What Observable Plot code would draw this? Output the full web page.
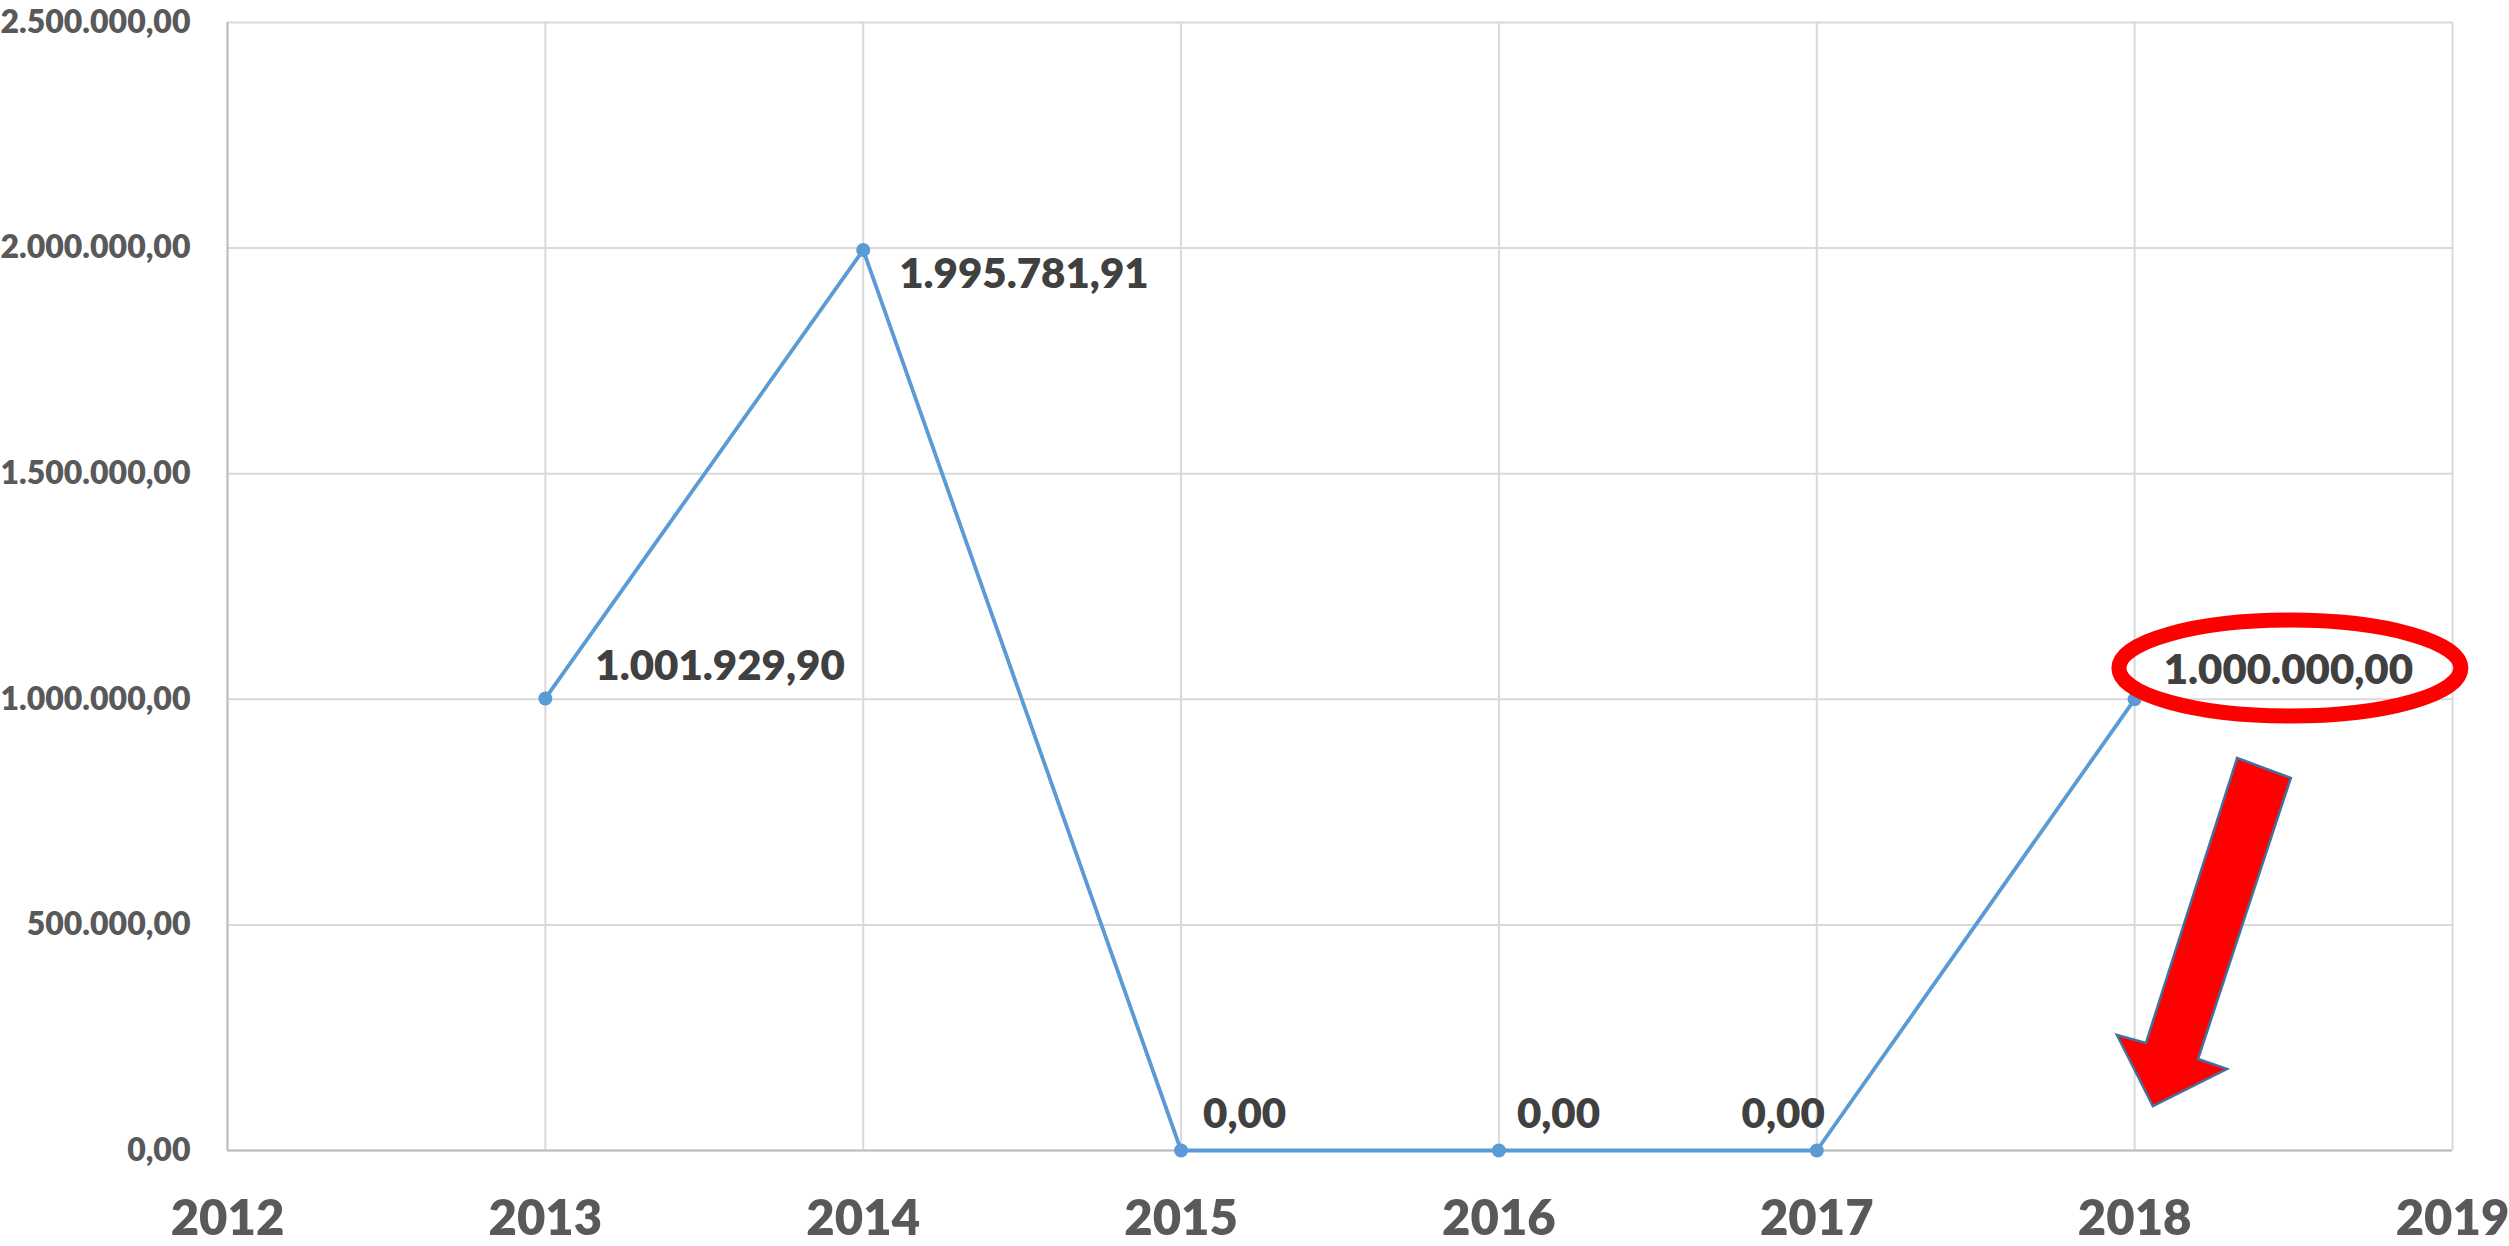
<!DOCTYPE html>
<html>
<head>
<meta charset="utf-8">
<script src="https://cdn.jsdelivr.net/npm/d3@7"></script>
<script src="https://cdn.jsdelivr.net/npm/@observablehq/plot@0.6"></script>
<style>
  html, body { margin: 0; padding: 0; background: #fff; }
  #chart svg { display: block; }
</style>
</head>
<body>
<div id="chart"></div>
<script>
// ---- data ----
const years = [2013, 2014, 2015, 2016, 2017, 2018];
const values = [1001929.90, 1995781.91, 0, 0, 0, 1000000];
const xTicks = [2012, 2013, 2014, 2015, 2016, 2017, 2018, 2019];
const yTicks = [0, 500000, 1000000, 1500000, 2000000, 2500000];

const data = years.map((year, i) => ({year, value: values[i]}));

const deLocale = d3.formatLocale({decimal: ",", thousands: ".", grouping: [3], currency: ["", " €"]});
const fmt = deLocale.format(",.2f");

const labelStyle = {fontSize: 42, fontWeight: 800, fill: "#404040", fontFamily: "Lato"};
const labelMark = (year, opts) => Plot.text(data.filter(d => d.year === year), {
  x: "year", y: "value", text: d => fmt(d.value), textAnchor: "start", ...labelStyle, ...opts
});

const plot = Plot.plot({
  width: 2509,
  height: 1246,
  marginLeft: 227,
  marginRight: 57,
  marginTop: 22,
  marginBottom: 96,
  style: {fontFamily: "Lato", background: "#fff", overflow: "visible"},
  x: {domain: [2012, 2019], ticks: xTicks, tickFormat: d => String(d), label: null},
  y: {domain: [0, 2500000], ticks: yTicks, tickFormat: fmt, label: null},
  marks: [
    Plot.gridX(xTicks, {stroke: "#d9d9d9", strokeOpacity: 1, strokeWidth: 2}),
    Plot.gridY(yTicks, {stroke: "#d9d9d9", strokeOpacity: 1, strokeWidth: 2}),
    Plot.ruleX([2012], {stroke: "#bfbfbf", strokeWidth: 2}),
    Plot.ruleY([0], {stroke: "#bfbfbf", strokeWidth: 2}),
    Plot.axisX({ticks: xTicks, tickFormat: d => String(d), tickSize: 0, tickPadding: 50, fontSize: 49, fontWeight: 800, fill: "#595959", label: null}),
    Plot.axisY({ticks: yTicks, tickFormat: fmt, tickSize: 0, tickPadding: 37, fontSize: 32, fontWeight: 800, fill: "#595959", label: null}),
    Plot.line(data, {x: "year", y: "value", stroke: "#5b9bd5", strokeWidth: 3.8}),
    Plot.dot(data, {x: "year", y: "value", r: 7, fill: "#5b9bd5", stroke: "none"}),
    labelMark(2013, {dx: 50, dy: -32}),
    labelMark(2014, {dx: 36, dy: 25}),
    labelMark(2015, {dx: 22, dy: -36}),
    labelMark(2016, {dx: 18, dy: -36}),
    labelMark(2017, {dx: 8, dy: -36, textAnchor: "end"}),
    labelMark(2018, {dx: 29, dy: -29})
  ]
});

document.getElementById("chart").appendChild(plot);

// ---- annotations (red ellipse + red arrow), placed through the chart's scales ----
const sx = plot.scale("x"), sy = plot.scale("y");
const svg = d3.select(plot);
const ann = svg.append("g").attr("class", "annotations");

const ellipseCenter = {year: 2018.49, value: 1068000};
ann.append("ellipse")
  .attr("cx", sx.apply(ellipseCenter.year))
  .attr("cy", sy.apply(ellipseCenter.value))
  .attr("rx", 171)
  .attr("ry", 48)
  .attr("fill", "none")
  .attr("stroke", "#ff0000")
  .attr("stroke-width", 15);

const arrowShape = [
  [2018.324, 868800],
  [2018.493, 824500],
  [2018.201, 201700],
  [2018.292, 179500],
  [2018.059, 97500],
  [2017.946, 254900],
  [2018.037, 237100]
];
ann.append("polygon")
  .attr("points", arrowShape.map(([x, y]) => `${sx.apply(x)},${sy.apply(y)}`).join(" "))
  .attr("fill", "#ff0000")
  .attr("stroke", "#41719c")
  .attr("stroke-width", 2.5)
  .attr("stroke-linejoin", "miter");
</script>
</body>
</html>
